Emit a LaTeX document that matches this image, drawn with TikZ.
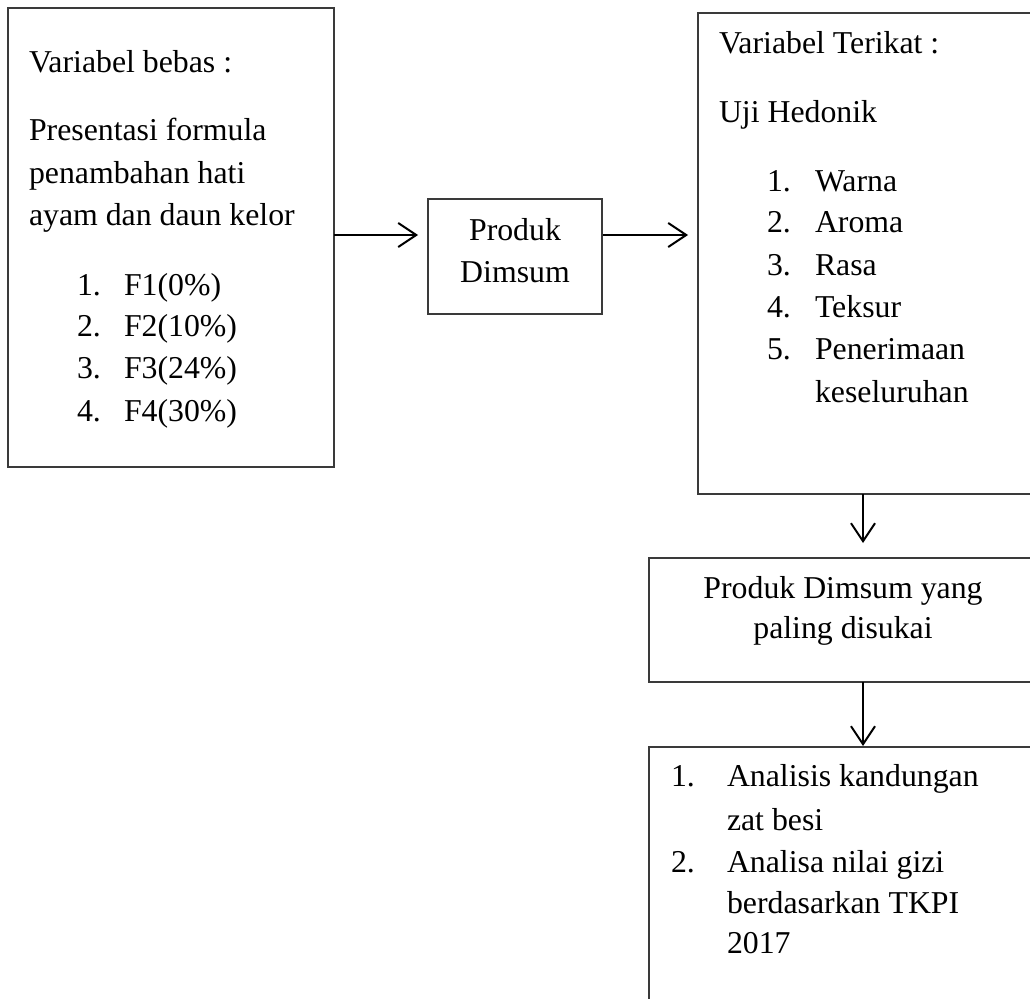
\documentclass[tikz,border=0pt]{standalone}
\usepackage{fontspec}
\setmainfont{Liberation Serif}
\usetikzlibrary{arrows.meta}
\definecolor{boxline}{HTML}{3A3A3A}
\tikzset{
  box/.style={draw=boxline, line width=1.5pt, rectangle, inner sep=0pt, outer sep=0pt, anchor=north west},
  txt/.style={inner sep=0pt, outer sep=0pt, anchor=base west, font=\fontsize{31.8}{40}\selectfont},
  ctxt/.style={txt, anchor=base},
  arr/.style={draw=black, line width=2pt, -{Straight Barb[length=18pt,width=24pt,line width=2pt]}}
}
\begin{document}
\begin{tikzpicture}[x=1pt,y=-1pt]
\clip (0,0) rectangle (1030,998);
\fill[white] (0,0) rectangle (1030,998);
% boxes
\node[box, minimum width=326pt, minimum height=459pt] (lb) at (8,8) {};
\node[box, minimum width=174pt, minimum height=115pt] (mb) at (428,199) {};
\node[box, minimum width=420pt, minimum height=481pt] (rb) at (698,13) {};
\node[box, minimum width=420pt, minimum height=124pt] (b4) at (649,558) {};
\node[box, minimum width=420pt, minimum height=300pt] (b5) at (649,747) {};
% left box text
\node[txt] (l1) at (29,72) {Variabel bebas :};
\node[txt] (l2) at (29,140) {Presentasi formula};
\node[txt] (l3) at (29,183) {penambahan hati};
\node[txt] (l4) at (29,225) {ayam dan daun kelor};
\node[txt] (ln1) at (77,295) {1.};
\node[txt] (li1) at (124,295) {F1(0\%)};
\node[txt] (ln2) at (77,336) {2.};
\node[txt] (li2) at (124,336) {F2(10\%)};
\node[txt] (ln3) at (77,378) {3.};
\node[txt] (li3) at (124,378) {F3(24\%)};
\node[txt] (ln4) at (77,421) {4.};
\node[txt] (li4) at (124,421) {F4(30\%)};
% middle box text
\node[ctxt] (m1) at (515,240) {Produk};
\node[ctxt] (m2) at (515,282) {Dimsum};
% right box text
\node[txt] (r1) at (719,53) {Variabel Terikat :};
\node[txt] (r2) at (719,122) {Uji Hedonik};
\node[txt] (rn1) at (767,191) {1.};
\node[txt] (ri1) at (815,191) {Warna};
\node[txt] (rn2) at (767,232) {2.};
\node[txt] (ri2) at (815,232) {Aroma};
\node[txt] (rn3) at (767,275) {3.};
\node[txt] (ri3) at (815,275) {Rasa};
\node[txt] (rn4) at (767,317) {4.};
\node[txt] (ri4) at (815,317) {Teksur};
\node[txt] (rn5) at (767,359) {5.};
\node[txt] (ri5) at (815,359) {Penerimaan};
\node[txt] (ri6) at (815,402) {keseluruhan};
% box 4 text
\node[ctxt] (p1) at (843,598) {Produk Dimsum yang};
\node[ctxt] (p2) at (843,638) {paling disukai};
% box 5 text
\node[txt] (an1) at (671,786) {1.};
\node[txt] (a1) at (727,786) {Analisis kandungan};
\node[txt] (a2) at (727,830) {zat besi};
\node[txt] (an2) at (671,872) {2.};
\node[txt] (a3) at (727,872) {Analisa nilai gizi};
\node[txt] (a4) at (727,913) {berdasarkan TKPI};
\node[txt] (a5) at (727,953) {2017};
% connectors
\coordinate (ay) at (0,235);
\coordinate (ax) at (863,0);
\draw[arr, shorten >=10pt] (lb.east |- ay) -- (mb.west |- ay);
\draw[arr, shorten <=1pt, shorten >=10pt] (mb.east |- ay) -- (rb.west |- ay);
\draw[arr, shorten >=15pt] (rb.south -| ax) -- (b4.north -| ax);
\draw[arr, shorten >=1pt] (b4.south -| ax) -- (b5.north -| ax);
\end{tikzpicture}
\end{document}
